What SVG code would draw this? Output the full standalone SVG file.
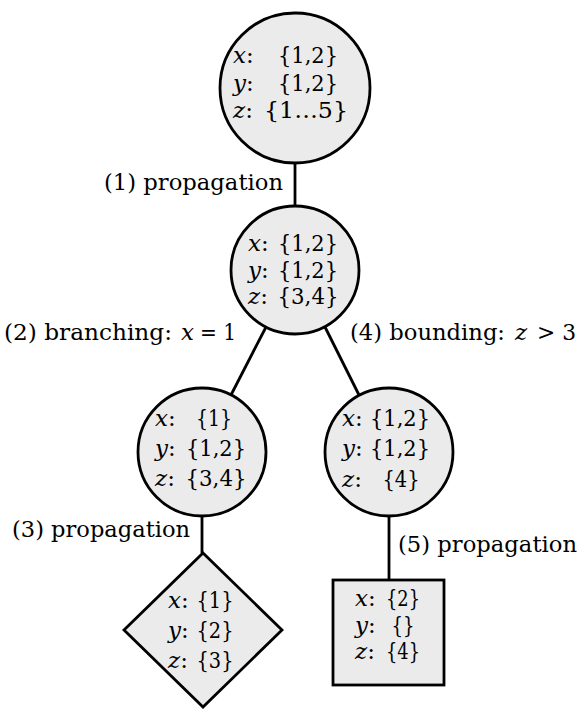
<svg xmlns="http://www.w3.org/2000/svg" width="580" height="709" viewBox="0 0 580 709">
<style>
text{font-family:'DejaVu Serif',serif;font-size:23px;fill:#000}
.v{font-style:italic}
.s{text-anchor:middle}
.shape{fill:#ebebeb;stroke:#000;stroke-width:2.8}
.edge{stroke:#000;stroke-width:2.8;fill:none}
</style>
<rect width="580" height="709" fill="#fff"/>
<g id="connectors">
<line class="edge" x1="295" y1="162" x2="295" y2="207"/>
<line class="edge" x1="266" y1="327" x2="231" y2="395"/>
<line class="edge" x1="325" y1="327" x2="359" y2="395"/>
<line class="edge" x1="202" y1="515" x2="202" y2="553"/>
<line class="edge" x1="389" y1="515" x2="389" y2="580"/>
</g>
<g id="labels">
<text x="104" y="190" textLength="179" lengthAdjust="spacingAndGlyphs">(1) propagation</text>
<text x="4" y="340" textLength="168" lengthAdjust="spacingAndGlyphs">(2) branching:</text>
<text class="v" x="181" y="340">x</text>
<text x="200" y="340" textLength="36" lengthAdjust="spacingAndGlyphs">= 1</text>
<text x="350" y="340" textLength="155" lengthAdjust="spacingAndGlyphs">(4) bounding:</text>
<text class="v" x="515" y="340">z</text>
<text x="537" y="340" textLength="39" lengthAdjust="spacingAndGlyphs">&gt; 3</text>
<text x="12" y="537" textLength="178" lengthAdjust="spacingAndGlyphs">(3) propagation</text>
<text x="398" y="552" textLength="179" lengthAdjust="spacingAndGlyphs">(5) propagation</text>
</g>
<g id="node1">
<circle class="shape" cx="295" cy="88" r="75"/>
<text x="233" y="63"><tspan class="v">x</tspan>:</text>
<text class="s" x="308" y="63" textLength="60" lengthAdjust="spacingAndGlyphs">{1,2}</text>
<text x="233" y="91"><tspan class="v">y</tspan>:</text>
<text class="s" x="308" y="91" textLength="60" lengthAdjust="spacingAndGlyphs">{1,2}</text>
<text x="233" y="118"><tspan class="v">z</tspan>:</text>
<text class="s" x="306" y="118" textLength="84" lengthAdjust="spacingAndGlyphs">{1…5}</text>
</g>
<g id="node2">
<circle class="shape" cx="295" cy="270" r="64"/>
<text x="248" y="251"><tspan class="v">x</tspan>:</text>
<text class="s" x="308" y="251" textLength="60" lengthAdjust="spacingAndGlyphs">{1,2}</text>
<text x="248" y="278"><tspan class="v">y</tspan>:</text>
<text class="s" x="308" y="278" textLength="60" lengthAdjust="spacingAndGlyphs">{1,2}</text>
<text x="248" y="304"><tspan class="v">z</tspan>:</text>
<text class="s" x="308" y="304" textLength="61" lengthAdjust="spacingAndGlyphs">{3,4}</text>
</g>
<g id="node3">
<circle class="shape" cx="202" cy="452" r="64"/>
<text x="155" y="426"><tspan class="v">x</tspan>:</text>
<text class="s" x="214" y="426" textLength="36" lengthAdjust="spacingAndGlyphs">{1}</text>
<text x="155" y="456"><tspan class="v">y</tspan>:</text>
<text class="s" x="216" y="456" textLength="60" lengthAdjust="spacingAndGlyphs">{1,2}</text>
<text x="155" y="486"><tspan class="v">z</tspan>:</text>
<text class="s" x="216" y="486" textLength="61" lengthAdjust="spacingAndGlyphs">{3,4}</text>
</g>
<g id="node4">
<circle class="shape" cx="389" cy="452" r="64"/>
<text x="342" y="426"><tspan class="v">x</tspan>:</text>
<text class="s" x="400" y="426" textLength="60" lengthAdjust="spacingAndGlyphs">{1,2}</text>
<text x="342" y="456"><tspan class="v">y</tspan>:</text>
<text class="s" x="400" y="456" textLength="60" lengthAdjust="spacingAndGlyphs">{1,2}</text>
<text x="342" y="487"><tspan class="v">z</tspan>:</text>
<text class="s" x="401" y="487" textLength="37" lengthAdjust="spacingAndGlyphs">{4}</text>
</g>
<g id="node5">
<polygon class="shape" points="203,553 282,630 203,707 124,630"/>
<text x="168" y="608"><tspan class="v">x</tspan>:</text>
<text class="s" x="215" y="608" textLength="37" lengthAdjust="spacingAndGlyphs">{1}</text>
<text x="168" y="638"><tspan class="v">y</tspan>:</text>
<text class="s" x="215" y="638" textLength="37" lengthAdjust="spacingAndGlyphs">{2}</text>
<text x="168" y="668"><tspan class="v">z</tspan>:</text>
<text class="s" x="215" y="668" textLength="37" lengthAdjust="spacingAndGlyphs">{3}</text>
</g>
<g id="node6">
<rect class="shape" x="333" y="580" width="111" height="105"/>
<text x="355" y="606"><tspan class="v">x</tspan>:</text>
<text class="s" x="403" y="606" textLength="34" lengthAdjust="spacingAndGlyphs">{2}</text>
<text x="355" y="633"><tspan class="v">y</tspan>:</text>
<text class="s" x="403" y="633" textLength="23" lengthAdjust="spacingAndGlyphs">{}</text>
<text x="355" y="659"><tspan class="v">z</tspan>:</text>
<text class="s" x="403" y="659" textLength="34" lengthAdjust="spacingAndGlyphs">{4}</text>
</g>
</svg>
